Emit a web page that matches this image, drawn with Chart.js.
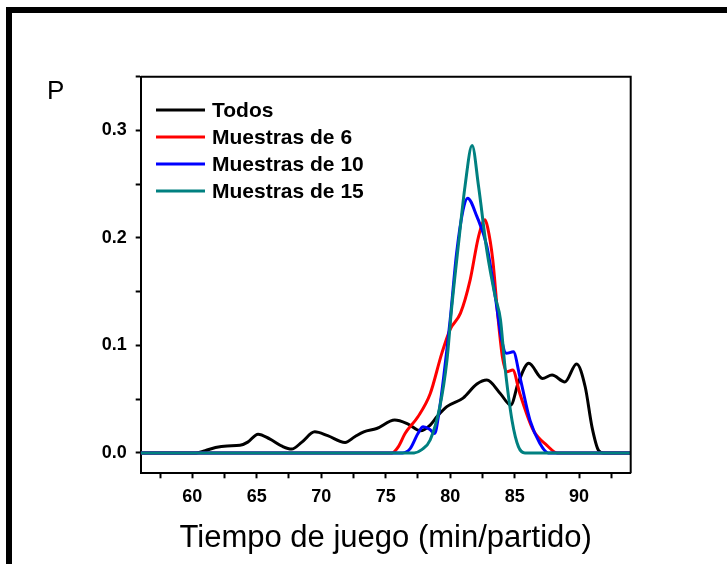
<!DOCTYPE html>
<html>
<head>
<meta charset="utf-8">
<script src="https://cdn.jsdelivr.net/npm/chart.js@4"></script>
<style>
  body { margin: 0; background: #fff; }
  #frame { position: absolute; left: 6px; top: 7px; width: 721px; height: 557px; border-top: 6px solid #000; border-left: 6px solid #000; box-sizing: border-box; }
  #chart { position: absolute; left: 0; top: 0; }
</style>
</head>
<body>
<div id="frame"></div>
<canvas id="chart" width="727" height="564"></canvas>
<script>
const seriesLabels = ["Todos", "Muestras de 6", "Muestras de 10", "Muestras de 15"];
const seriesColors = ["#000000", "#ff0000", "#0000ff", "#008080"];

const todosX = [56, 60.3, 61.0, 61.8, 62.7, 63.7, 64.3, 65.1, 66.0, 67.0, 67.7, 68.5, 69.5, 70.5, 71.85, 72.6, 73.3, 74.3, 75.7, 76.7, 77.7, 78.45, 79.0, 79.74, 81.0, 82.07, 82.85, 83.9, 84.7, 85.3, 86.1, 87.15, 87.9, 88.9, 89.8, 90.47, 91.0, 91.5, 91.9, 94];
const todosY = [0, 0, 0.002, 0.005, 0.0065, 0.007, 0.010, 0.0174, 0.013, 0.006, 0.0035, 0.010, 0.0196, 0.016, 0.0097, 0.015, 0.0196, 0.0227, 0.0305, 0.027, 0.0205, 0.0258, 0.034, 0.043, 0.051, 0.064, 0.0677, 0.055, 0.0445, 0.066, 0.0833, 0.0693, 0.0724, 0.066, 0.0827, 0.0615, 0.024, 0.0025, 0, 0];

const m6X = [56, 75.5, 76.0, 76.5, 77.5, 78.45, 79.35, 80.0, 80.8, 81.55, 82.2, 82.7, 82.9, 83.3, 83.7, 84.05, 84.4, 84.85, 85.4, 86.45, 87.5, 88.3, 94];
const m6Y = [0, 0, 0.006, 0.018, 0.0336, 0.055, 0.0926, 0.115, 0.130, 0.161, 0.2013, 0.2169, 0.21, 0.18, 0.127, 0.0895, 0.0755, 0.077, 0.0553, 0.021, 0.007, 0, 0];

const m10X = [56, 76.3, 76.9, 77.5, 77.9, 78.4, 78.8, 79.1, 79.5, 80.0, 80.5, 81.0, 81.35, 82.07, 82.85, 83.5, 84.0, 84.35, 84.9, 85.4, 86.2, 86.95, 87.6, 94];
const m10Y = [0, 0, 0.004, 0.018, 0.0242, 0.022, 0.018, 0.035, 0.071, 0.124, 0.186, 0.226, 0.237, 0.22, 0.192, 0.145, 0.105, 0.0926, 0.094, 0.071, 0.030, 0.009, 0, 0];

const m15X = [56, 77.2, 77.8, 78.45, 79.2, 79.75, 80.1, 80.65, 81.15, 81.7, 82.2, 82.85, 83.5, 83.9, 84.25, 84.8, 85.3, 85.8, 94];
const m15Y = [0, 0, 0.003, 0.012, 0.043, 0.086, 0.133, 0.195, 0.248, 0.286, 0.248, 0.1877, 0.145, 0.124, 0.080, 0.030, 0.0056, 0, 0];

const xTitle = "Tiempo de juego (min/partido)";
const yTitle = "P";

const FONT = "'Liberation Sans', Arial, sans-serif";

function pts(xs, ys) {
  return xs.map((x, i) => ({x: x, y: ys[i]}));
}

const allX = [todosX, m6X, m10X, m15X];
const allY = [todosY, m6Y, m10Y, m15Y];

const datasets = seriesLabels.map((label, i) => ({
  label: label,
  data: pts(allX[i], allY[i]),
  borderColor: seriesColors[i],
  backgroundColor: seriesColors[i],
  borderWidth: 3,
  pointRadius: 0,
  cubicInterpolationMode: 'monotone',
  fill: false,
  order: seriesLabels.length - i
}));

const decor = {
  id: 'decor',
  afterDraw(chart) {
    const ctx = chart.ctx;
    const a = chart.chartArea;
    ctx.save();
    // top and right frame of the plot
    ctx.strokeStyle = '#000';
    ctx.lineWidth = 2;
    ctx.beginPath();
    ctx.moveTo(a.left, a.top);
    ctx.lineTo(a.right, a.top);
    ctx.lineTo(a.right, a.bottom);
    ctx.stroke();

    // legend inside the plot
    ctx.font = "bold 21px " + FONT;
    ctx.textAlign = 'left';
    ctx.textBaseline = 'alphabetic';
    seriesLabels.forEach((label, i) => {
      const y = 110 + i * 27;
      ctx.strokeStyle = seriesColors[i];
      ctx.lineWidth = 3;
      ctx.beginPath();
      ctx.moveTo(156, y);
      ctx.lineTo(205, y);
      ctx.stroke();
      ctx.fillStyle = '#000';
      ctx.fillText(label, 212, y + 7);
    });

    // axis titles
    ctx.fillStyle = '#000';
    ctx.font = "26px " + FONT;
    ctx.fillText(yTitle, 47, 99);
    ctx.font = "31px " + FONT;
    ctx.textAlign = 'center';
    ctx.fillText(xTitle, (a.left + a.right) / 2, 547);
    ctx.restore();
  }
};

new Chart(document.getElementById("chart"), {
  type: 'line',
  data: { datasets: datasets },
  plugins: [decor],
  options: {
    responsive: false,
    animation: false,
    devicePixelRatio: 1,
    layout: { padding: { top: 76.7, right: 96.3, left: 0, bottom: 0 } },
    plugins: { legend: { display: false }, tooltip: { enabled: false } },
    scales: {
      x: {
        type: 'linear',
        min: 56,
        max: 94,
        afterFit(scale) { scale.height = 90.7; },
        border: { display: true, color: '#000', width: 2 },
        grid: { drawOnChartArea: false, drawTicks: true, tickLength: 5, tickWidth: 2, color: '#000' },
        ticks: {
          stepSize: 2.5,
          includeBounds: false,
          autoSkip: false,
          maxRotation: 0,
          padding: 8,
          color: '#000',
          font: { family: FONT, size: 18, weight: 'bold' },
          callback: v => (Math.abs(v % 5) < 1e-6 ? String(v) : '')
        }
      },
      y: {
        min: -0.019,
        max: 0.35,
        afterFit(scale) { scale.width = 140.7; },
        border: { display: true, color: '#000', width: 2 },
        grid: { drawOnChartArea: false, drawTicks: true, tickLength: 5, tickWidth: 2, color: '#000' },
        ticks: {
          stepSize: 0.05,
          includeBounds: false,
          autoSkip: false,
          padding: 9,
          color: '#000',
          font: { family: FONT, size: 18, weight: 'bold' },
          callback: v => (Math.abs(v * 10 - Math.round(v * 10)) < 1e-6 ? v.toFixed(1) : '')
        }
      }
    }
  }
});
</script>
</body>
</html>
